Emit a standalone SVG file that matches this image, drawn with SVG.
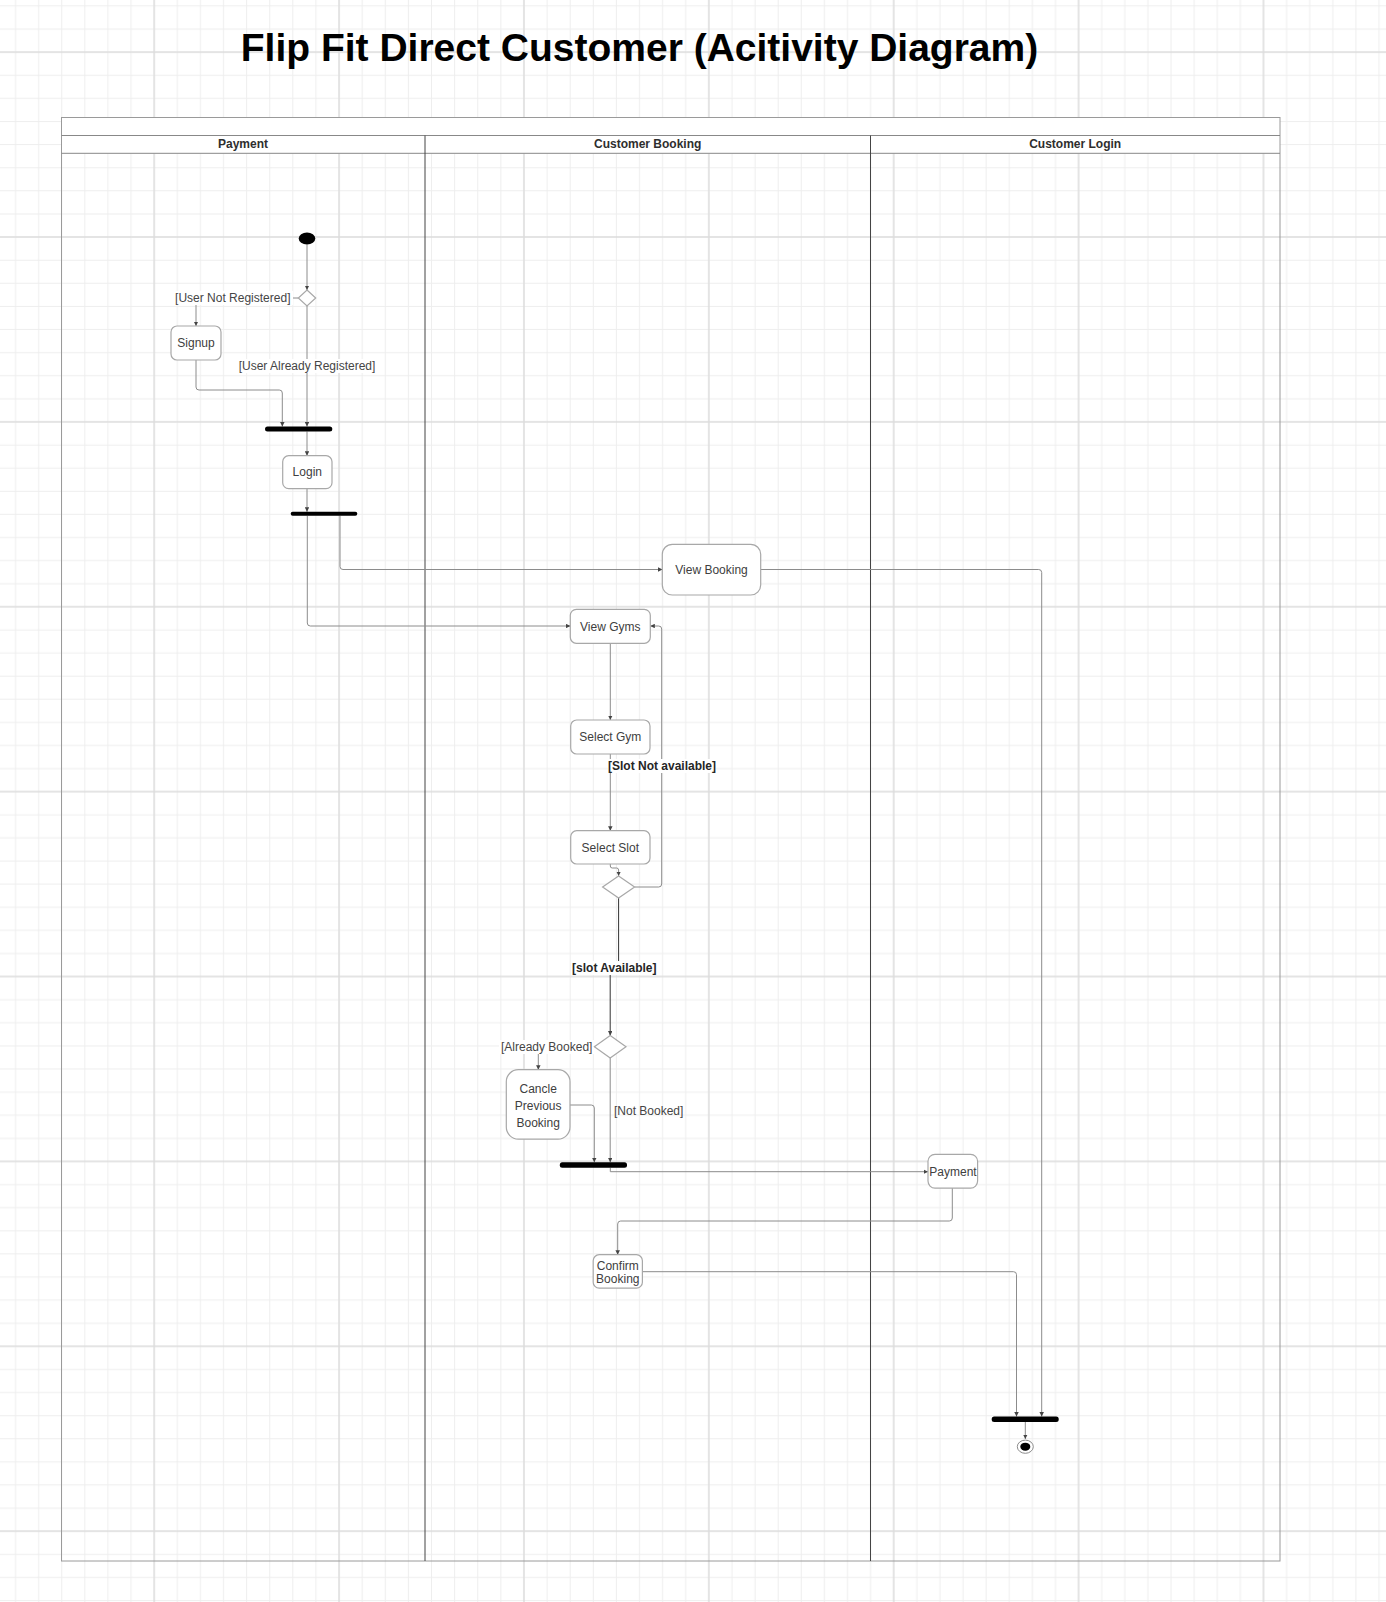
<svg xmlns="http://www.w3.org/2000/svg" width="1386" height="1602" viewBox="0 0 1386 1602">
  <style>
    .node { fill: #ffffff; stroke: #a8a8a8; stroke-width: 1.2; }
    .bar { fill: #000000; }
    .ntxt { font-family: "Liberation Sans", Arial, sans-serif; font-size: 12px; fill: #404040; text-anchor: middle; }
    .lane { font-family: "Liberation Sans", Arial, sans-serif; font-size: 12px; font-weight: bold; fill: #2e2e2e; text-anchor: middle; }
    .lbl { font-family: "Liberation Sans", Arial, sans-serif; font-size: 12px; fill: #454545; text-anchor: middle; }
    .lblb { font-family: "Liberation Sans", Arial, sans-serif; font-size: 12px; font-weight: bold; fill: #262626; text-anchor: middle; }
    .edge { fill: none; stroke: #8c8c8c; stroke-width: 1; marker-end: url(#arr); }
    .edge.dark { stroke: #333333; }
    .lblbg { fill: #ffffff; }
  </style>
  <defs>
    <marker id="arr" viewBox="0 0 6 6" refX="6" refY="3" markerWidth="4.5" markerHeight="4.5" markerUnits="userSpaceOnUse" orient="auto">
      <path d="M0,0 L6,3 L0,6 z" fill="#444444"/>
    </marker>
    <pattern id="grid" x="153.2" y="236" width="184.88" height="184.88" patternUnits="userSpaceOnUse">
      <path d="M24.11 0V184.88M47.22 0V184.88M70.33 0V184.88M93.44 0V184.88M116.55 0V184.88M139.66 0V184.88M162.77 0V184.88M0 24.11H184.88M0 47.22H184.88M0 70.33H184.88M0 93.44H184.88M0 116.55H184.88M0 139.66H184.88M0 162.77H184.88" stroke="#eeeeee" stroke-width="1" fill="none"/>
      <path d="M1 0V184.88M0 1H184.88" stroke="#dcdcdc" stroke-width="1.5" fill="none"/>
    </pattern>
  </defs>

  <!-- canvas with grid -->
  <rect x="0" y="0" width="1386" height="1602" fill="#ffffff"/>
  <rect x="0" y="0" width="1386" height="1602" fill="url(#grid)"/>

  <!-- title -->
  <text x="639.5" y="61" font-family="'Liberation Sans', Arial, sans-serif" font-size="39" font-weight="bold" fill="#000000" text-anchor="middle">Flip Fit Direct Customer (Acitivity Diagram)</text>

  <!-- pool with three lanes -->
  <g id="pool">
    <rect x="61.5" y="117.5" width="1218.5" height="36" fill="#ffffff"/>
    <rect x="61.5" y="117.5" width="1218.5" height="1443.5" fill="none" stroke="#9a9a9a" stroke-width="1"/>
    <line x1="61.5" y1="135.5" x2="1280" y2="135.5" stroke="#888888" stroke-width="1"/>
    <line x1="61.5" y1="153.3" x2="1280" y2="153.3" stroke="#888888" stroke-width="1"/>
    <line x1="425" y1="135.5" x2="425" y2="1561" stroke="#444444" stroke-width="1"/>
    <line x1="870.5" y1="135.5" x2="870.5" y2="1561" stroke="#444444" stroke-width="1"/>
    <text class="lane" x="243" y="148.3">Payment</text>
    <text class="lane" x="647.7" y="148.3">Customer Booking</text>
    <text class="lane" x="1075.2" y="148.3">Customer Login</text>
  </g>

  <!-- connectors -->
  <g id="connectors">
    <path class="edge" d="M307 244.5V290"/>
    <path class="edge" d="M298.3 298H196V326"/>
    <path class="edge" d="M307 306V426.5"/>
    <path class="edge" d="M196 360V387Q196 390 199 390H279.3Q282.3 390 282.3 393V426.5"/>
    <path class="edge" d="M307 431.5V455.7"/>
    <path class="edge" d="M307 488.7V511.8"/>
    <path class="edge" d="M307.3 515.8V623Q307.3 626 310.3 626H570.3"/>
    <path class="edge" d="M340 515.8V566.5Q340 569.5 343 569.5H662.3"/>
    <path class="edge" d="M760.7 569.5H1038.7Q1041.7 569.5 1041.7 572.5V1416.5"/>
    <path class="edge" d="M610.3 643.3V720"/>
    <path class="edge" d="M610.3 754V830.7"/>
    <path class="edge" d="M610.3 864V866Q610.3 868 612.3 868H616.5Q618.6 868 618.6 870V876"/>
    <path class="edge" d="M634.6 887H658.7Q661.7 887 661.7 884V629Q661.7 626 658.7 626H650.3"/>
    <path class="edge dark" d="M618.6 898V968H610.2V1035.5"/>
    <path class="edge" d="M594.4 1046.7H538.3V1069.7"/>
    <path class="edge" d="M610.2 1057.9V1162.3"/>
    <path class="edge" d="M570 1105H591.3Q594.3 1105 594.3 1108V1162.3"/>
    <path class="edge" d="M610.3 1167.8V1171.7H928"/>
    <path class="edge" d="M952.3 1188.1V1218Q952.3 1221 949.3 1221H620.7Q617.7 1221 617.7 1224V1254.7"/>
    <path class="edge" d="M642.4 1271.7H1013.5Q1016.5 1271.7 1016.5 1274.7V1416.5"/>
    <path class="edge" d="M1025.3 1422V1439"/>

    <!-- guard labels -->
    <rect class="lblbg" x="173" y="291" width="120" height="14"/>
    <text class="lbl" x="232.8" y="302.2">[User Not Registered]</text>
    <rect class="lblbg" x="237" y="359" width="140" height="14"/>
    <text class="lbl" x="307" y="370">[User Already Registered]</text>
    <rect class="lblbg" x="608" y="759" width="108" height="14"/>
    <text class="lblb" x="662" y="770">[Slot Not available]</text>
    <rect class="lblbg" x="571" y="961" width="87" height="14"/>
    <text class="lblb" x="614.3" y="972">[slot Available]</text>
    <rect class="lblbg" x="499" y="1040" width="95" height="14"/>
    <text class="lbl" x="546.7" y="1051">[Already Booked]</text>
    <text class="lbl" x="648.7" y="1115">[Not Booked]</text>
  </g>

  <!-- nodes -->
  <g id="start">
    <ellipse cx="307" cy="238.5" rx="8.3" ry="6" fill="#000000"/>
  </g>
  <g id="decision-registered">
    <polygon class="node" points="307,290 315.7,298 307,306 298.3,298"/>
  </g>
  <g id="signup">
    <rect class="node" x="171" y="326" width="50" height="34" rx="6"/>
    <text class="ntxt" x="196" y="347.2">Signup</text>
  </g>
  <g id="join-login">
    <rect class="bar" x="265" y="426.5" width="67.3" height="5" rx="2.5"/>
  </g>
  <g id="login">
    <rect class="node" x="282.7" y="455.7" width="49.3" height="33" rx="6"/>
    <text class="ntxt" x="307.3" y="476.4">Login</text>
  </g>
  <g id="fork-login">
    <rect class="bar" x="290.7" y="511.8" width="66.6" height="4" rx="2"/>
  </g>
  <g id="view-booking">
    <rect class="node" x="662.3" y="544.3" width="98.4" height="50.7" rx="10"/>
    <text class="ntxt" x="711.5" y="573.9">View Booking</text>
  </g>
  <g id="view-gyms">
    <rect class="node" x="570.3" y="609.3" width="80" height="34" rx="6"/>
    <text class="ntxt" x="610.3" y="630.5">View Gyms</text>
  </g>
  <g id="select-gym">
    <rect class="node" x="570.7" y="720" width="79.3" height="34" rx="6"/>
    <text class="ntxt" x="610.3" y="741.2">Select Gym</text>
  </g>
  <g id="select-slot">
    <rect class="node" x="570.7" y="830.7" width="79.3" height="33.3" rx="6"/>
    <text class="ntxt" x="610.3" y="851.6">Select Slot</text>
  </g>
  <g id="decision-slot">
    <polygon class="node" points="618.6,876 634.6,887 618.6,898 602.6,887"/>
  </g>
  <g id="decision-booked">
    <polygon class="node" points="610.2,1035.5 626,1046.7 610.2,1057.9 594.4,1046.7"/>
  </g>
  <g id="cancel-booking">
    <rect class="node" x="506.3" y="1069.7" width="63.7" height="69.4" rx="12"/>
    <text class="ntxt" x="538.2" y="1093.2">Cancle</text>
    <text class="ntxt" x="538.2" y="1109.9">Previous</text>
    <text class="ntxt" x="538.2" y="1126.6">Booking</text>
  </g>
  <g id="join-booking">
    <rect class="bar" x="559.8" y="1162.3" width="67.2" height="5.5" rx="2.5"/>
  </g>
  <g id="payment">
    <rect class="node" x="928" y="1154.3" width="49.6" height="33.8" rx="7"/>
    <text class="ntxt" x="953" y="1175.5">Payment</text>
  </g>
  <g id="confirm-booking">
    <rect class="node" x="593.2" y="1254.7" width="49.2" height="33.5" rx="6"/>
    <text class="ntxt" x="617.8" y="1269.8">Confirm</text>
    <text class="ntxt" x="617.8" y="1282.6">Booking</text>
  </g>
  <g id="join-end">
    <rect class="bar" x="991.7" y="1416.5" width="67" height="5.5" rx="2.5"/>
  </g>
  <g id="end">
    <ellipse cx="1025.3" cy="1446.7" rx="8" ry="6.6" fill="#ffffff" stroke="#8c8c8c" stroke-width="1"/>
    <ellipse cx="1025.3" cy="1446.7" rx="5" ry="4" fill="#000000"/>
  </g>
</svg>
